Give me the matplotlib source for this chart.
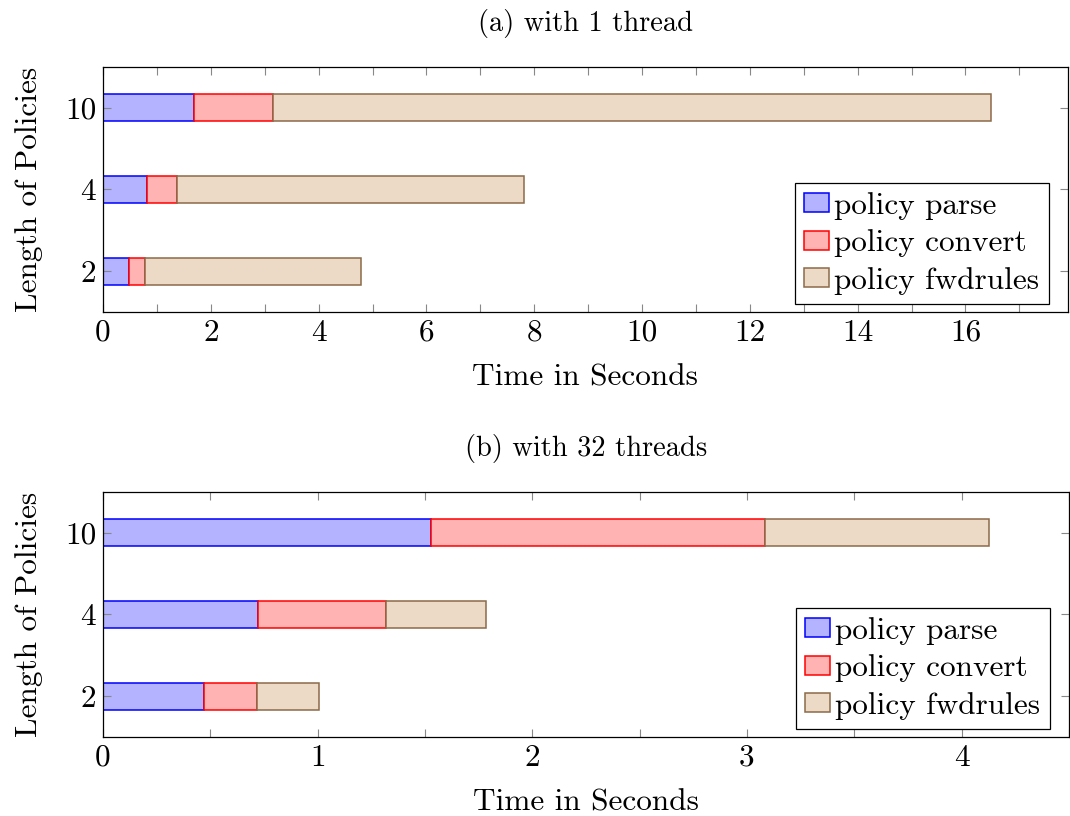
import matplotlib.pyplot as plt
from matplotlib.ticker import MultipleLocator

plt.rcParams['font.family'] = ['cmr10', 'DejaVu Serif']
plt.rcParams['axes.formatter.use_mathtext'] = True
plt.rcParams['mathtext.fontset'] = 'cm'

lengths = ['2', '4', '10']
series = ['policy parse', 'policy convert', 'policy fwdrules']

# (a) 1 thread
parse_1 = [0.49, 0.81, 1.69]
convert_1 = [0.28, 0.57, 1.46]
fwdrules_1 = [4.02, 6.43, 13.32]

# (b) 32 threads
parse_32 = [0.47, 0.72, 1.53]
convert_32 = [0.245, 0.596, 1.552]
fwdrules_32 = [0.29, 0.469, 1.046]

fills = ['#b3b3ff', '#ffb3b3', '#ecd9c6']
edges = ['#0000ff', '#ff0000', '#8c6a48']

fig = plt.figure(figsize=(10.7, 8.16), dpi=100)
ax1 = fig.add_axes([0.0963, 0.6176, 0.9017, 0.3004])
ax2 = fig.add_axes([0.0963, 0.0968, 0.9027, 0.3004])


def draw(ax, parts, title, xmax, major, minor):
    y = list(range(len(lengths)))
    left = [0.0] * len(lengths)
    for vals, name, fc, ec in zip(parts, series, fills, edges):
        ax.barh(y, vals, height=0.33, left=left, color=fc, edgecolor=ec,
                linewidth=1.1, label=name)
        left = [a + b for a, b in zip(left, vals)]
    ax.set_xlim(0, xmax)
    ax.set_ylim(-0.5, 2.5)
    ax.set_yticks(y)
    ax.set_yticklabels(lengths)
    ax.xaxis.set_major_locator(MultipleLocator(major))
    ax.xaxis.set_minor_locator(MultipleLocator(minor))
    ax.xaxis.set_major_formatter(plt.FuncFormatter(lambda v, p: '%g' % v))
    ax.tick_params(axis='both', which='both', direction='in', top=True, right=True,
                   length=6, width=0.8, color='#888888', labelsize=22.5, pad=5)
    ax.set_xlabel('Time in Seconds', fontsize=22.5, labelpad=12)
    ax.set_ylabel('Length of Policies', fontsize=22.5, labelpad=16)
    ax.set_title(title, fontsize=20.5, pad=26)
    for s in ax.spines.values():
        s.set_linewidth(0.9)
    leg = ax.legend(loc='lower right', bbox_to_anchor=(0.98, 0.033), fontsize=22.5,
                    fancybox=False, edgecolor='black', framealpha=1,
                    handlelength=0.8, handleheight=0.55, handletextpad=0.15,
                    labelspacing=0.3, borderpad=0.3, borderaxespad=0)
    leg.get_frame().set_linewidth(0.9)


draw(ax1, [parse_1, convert_1, fwdrules_1], '(a) with 1 thread', 17.9, 2, 1)
draw(ax2, [parse_32, convert_32, fwdrules_32], '(b) with 32 threads', 4.5, 1, 0.5)

fig.savefig('out.png', dpi=100)
